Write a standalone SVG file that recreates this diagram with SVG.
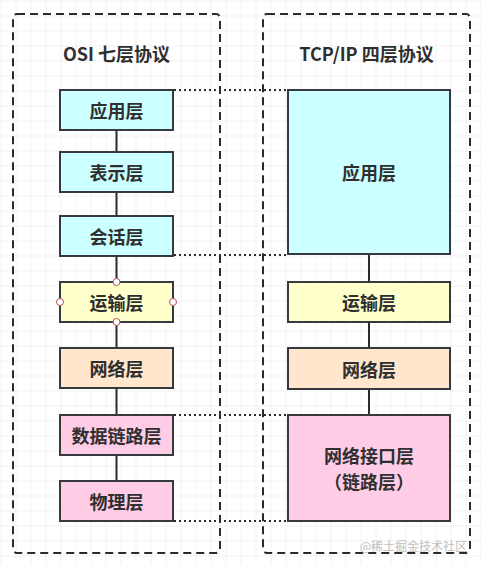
<svg xmlns="http://www.w3.org/2000/svg" width="481" height="565" viewBox="0 0 481 565">
<defs>
<pattern id="grid" x="0.5" y="0.5" width="15" height="15" patternUnits="userSpaceOnUse">
<path d="M15 0 L0 0 0 15" fill="none" stroke="#e6e6e6" stroke-width="1"/>
</pattern>
<style>
.cont{fill:none;stroke:#2b2b2b;stroke-width:2;stroke-dasharray:8 5}
.box{stroke:#36393d;stroke-width:2}
.cyan{fill:#ccffff}.yellow{fill:#ffffcc}.peach{fill:#ffe6cc}.pink{fill:#ffcce6}
.t{font-family:"Noto Sans CJK SC","Noto Sans",sans-serif;font-weight:bold;font-size:18px;fill:#2f2f2f;text-anchor:middle;dominant-baseline:central}
.title{font-size:18px}
.link{stroke:#2b2b2b;stroke-width:2;fill:none}
.dot{stroke:#2b2b2b;stroke-width:2;fill:none;stroke-dasharray:2 3}
.pt{fill:#fff;stroke:#b85450;stroke-width:1}
.wm{font-family:"Noto Sans CJK SC",sans-serif;font-size:12px;fill:#c0c0c0;text-anchor:end;dominant-baseline:central}
</style>
</defs>
<rect width="481" height="565" fill="#fff"/>
<rect width="481" height="565" fill="url(#grid)"/>

<g id="osi-container">
<rect class="cont" x="13" y="14" width="207" height="539" rx="4"/>
<text class="t title" x="116.5" y="53">OSI 七层协议</text>
</g>
<g id="tcpip-container">
<rect class="cont" x="263" y="14" width="207" height="539" rx="4"/>
<text class="t title" x="366.5" y="53">TCP/IP 四层协议</text>
</g>

<g id="connectors">
<path class="link" d="M116.5 130V152M116.5 192V216M116.5 256V282M116.5 322V348M116.5 388V415M116.5 455V481"/>
<path class="link" d="M369 254V282M369 322V348M369 388V415"/>
<path class="dot" d="M174 90H287M174 255H287M174 415H287M174 521H287"/>
</g>

<g id="osi-app"><rect class="box cyan" x="60" y="90" width="113" height="40"/><text class="t" x="116.5" y="110">应用层</text></g>
<g id="osi-pres"><rect class="box cyan" x="60" y="152" width="113" height="40"/><text class="t" x="116.5" y="172">表示层</text></g>
<g id="osi-sess"><rect class="box cyan" x="60" y="216" width="113" height="40"/><text class="t" x="116.5" y="236">会话层</text></g>
<g id="osi-trans"><rect class="box yellow" x="60" y="282" width="113" height="40"/><text class="t" x="116.5" y="302">运输层</text>
<circle class="pt" cx="116.5" cy="282" r="3.5"/><circle class="pt" cx="116.5" cy="322" r="3.5"/><circle class="pt" cx="60" cy="302" r="3.5"/><circle class="pt" cx="173" cy="302" r="3.5"/></g>
<g id="osi-net"><rect class="box peach" x="60" y="348" width="113" height="40"/><text class="t" x="116.5" y="368">网络层</text></g>
<g id="osi-link"><rect class="box pink" x="60" y="415" width="113" height="40"/><text class="t" x="116.5" y="435">数据链路层</text></g>
<g id="osi-phys"><rect class="box pink" x="60" y="481" width="113" height="40"/><text class="t" x="116.5" y="501">物理层</text></g>

<g id="tcp-app"><rect class="box cyan" x="288" y="90" width="162" height="164"/><text class="t" x="369" y="172">应用层</text></g>
<g id="tcp-trans"><rect class="box yellow" x="288" y="282" width="162" height="40"/><text class="t" x="369" y="302">运输层</text></g>
<g id="tcp-net"><rect class="box peach" x="288" y="348" width="162" height="41"/><text class="t" x="369" y="368.5">网络层</text></g>
<g id="tcp-link"><rect class="box pink" x="288" y="415" width="162" height="106"/><text class="t" x="369" y="455">网络接口层</text><text class="t" x="369" y="481">（链路层）</text></g>

<text class="wm" x="467" y="545">@稀土掘金技术社区</text>
</svg>
